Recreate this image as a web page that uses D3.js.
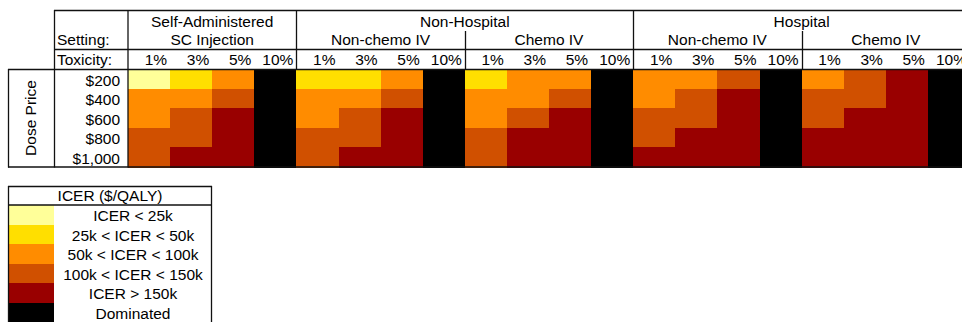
<!DOCTYPE html>
<html><head><meta charset="utf-8">
<script src="https://cdn.jsdelivr.net/npm/d3@7/dist/d3.min.js"></script>
<style>html,body{margin:0;padding:0;background:#fff;overflow:hidden}svg{display:block}</style>
</head><body>
<script>
// ---------- data ----------
const prices = ["$200", "$400", "$600", "$800", "$1,000"];
const toxicities = ["1%", "3%", "5%", "10%"];
const settingGroups = ["Self-Administered", "Non-Hospital", "Hospital"];
const routes = ["SC Injection", "Non-chemo IV", "Chemo IV", "Non-chemo IV", "Chemo IV"];
const routeGroup = [0, 1, 1, 2, 2];
// ICER category index per price (row) x toxicity (col)
// 0: <25k, 1: 25k-50k, 2: 50k-100k, 3: 100k-150k, 4: >150k, 5: Dominated
const scInjection      = [[0,1,2,5],[2,2,3,5],[2,3,4,5],[3,3,4,5],[3,4,4,5]];
const nonHospNonChemo  = [[1,1,2,5],[2,2,3,5],[2,3,4,5],[3,3,4,5],[3,4,4,5]];
const nonHospChemo     = [[1,2,2,5],[2,2,3,5],[2,3,4,5],[3,4,4,5],[3,4,4,5]];
const hospNonChemo     = [[2,2,3,5],[2,3,4,5],[3,3,4,5],[3,4,4,5],[4,4,4,5]];
const hospChemo        = [[2,3,4,5],[3,3,4,5],[3,4,4,5],[4,4,4,5],[4,4,4,5]];
const routeValues = [scInjection, nonHospNonChemo, nonHospChemo, hospNonChemo, hospChemo];
const legendTitle = "ICER ($/QALY)";
const legendLabels = ["ICER < 25k", "25k < ICER < 50k", "50k < ICER < 100k", "100k < ICER < 150k", "ICER > 150k", "Dominated"];
const legendColors = ["#FFFF99", "#FFDF00", "#FF8C00", "#D05000", "#990000", "#000000"];

// ---------- layout ----------
const W = 962, H = 322;
const font = "'Liberation Sans', Arial, sans-serif";
const fs = 15.5;
const svg = d3.select("body").append("svg").attr("width", W).attr("height", H)
  .style("font-family", font).style("font-size", fs + "px");

const cols = [];
routes.forEach((r, ri) => toxicities.forEach((t, ti) => cols.push({ri, ti, key: ri + "-" + ti})));
const x = d3.scaleBand().domain(cols.map(c => c.key)).range([128, 970]);
const y = d3.scaleBand().domain(prices).range([69, 167]);
const color = d3.scaleOrdinal().domain(d3.range(6)).range(legendColors);

const cells = [];
routeValues.forEach((m, ri) => m.forEach((row, pi) => row.forEach((v, ti) =>
  cells.push({ri, ti, pi, v, key: ri + "-" + ti}))));

svg.append("g").selectAll("rect").data(cells).join("rect")
  .attr("x", d => x(d.key)).attr("y", d => y(prices[d.pi]))
  .attr("width", x.bandwidth() + 0.5).attr("height", y.bandwidth() + 0.5)
  .attr("fill", d => color(d.v))
  .attr("shape-rendering", "crispEdges");

// ---------- grid lines ----------
const g = svg.append("g").attr("stroke", "#111").attr("stroke-width", 1.3).attr("fill", "none");
function line(x1, y1, x2, y2) { g.append("line").attr("x1", x1).attr("y1", y1).attr("x2", x2).attr("y2", y2); }
const right = 975;
line(54, 10.5, right, 10.5);
line(54, 49.5, right, 49.5);
line(8, 69.5, right, 69.5);
line(8, 167, right, 167);
line(8.5, 69, 8.5, 167.5);
line(54.5, 10, 54.5, 167.5);
line(128, 10, 128, 167.5);
// route boundaries
const routeStart = routes.map((r, ri) => x(ri + "-0"));
routes.forEach((r, ri) => {
  if (ri === 0) return;
  const xs = Math.round(routeStart[ri]) + 0.5;
  const top = routeGroup[ri] !== routeGroup[ri - 1] ? 10 : 31;
  line(xs, top, xs, 69.5);
});

// ---------- header text ----------
const txt = svg.append("g").attr("fill", "#000");
// setting groups
settingGroups.forEach((s, gi) => {
  const idx = routes.map((r, i) => i).filter(i => routeGroup[i] === gi);
  const x0 = x(idx[0] + "-0"), x1 = x(idx[idx.length - 1] + "-3") + x.bandwidth();
  txt.append("text").attr("x", (x0 + x1) / 2).attr("y", 26.5).attr("text-anchor", "middle").text(s);
});
routes.forEach((r, ri) => {
  const x0 = x(ri + "-0"), x1 = x(ri + "-3") + x.bandwidth();
  txt.append("text").attr("x", (x0 + x1) / 2).attr("y", 45).attr("text-anchor", "middle").text(r);
});
txt.append("text").attr("x", 57).attr("y", 45).text("Setting:");
txt.append("text").attr("x", 57).attr("y", 65).text("Toxicity:");
txt.selectAll("text.tox").data(cols).join("text").attr("class", "tox")
  .attr("x", d => x(d.key) + x.bandwidth() - 3).attr("y", 65)
  .attr("text-anchor", "end").text(d => toxicities[d.ti]);
txt.selectAll("text.price").data(prices).join("text").attr("class", "price")
  .attr("x", 120).attr("y", d => y(d) + 16.5)
  .attr("text-anchor", "end").text(d => d);
txt.append("text").attr("transform", "translate(36,118) rotate(-90)")
  .attr("text-anchor", "middle").text("Dose Price");

// ---------- legend ----------
const lg = svg.append("g");
const ly = d3.scaleBand().domain(legendLabels).range([205, 205 + 19.6 * 6]);
lg.selectAll("rect").data(legendLabels).join("rect")
  .attr("x", 9).attr("y", d => ly(d)).attr("width", 45).attr("height", ly.bandwidth() + 0.5)
  .attr("fill", (d, i) => legendColors[i]).attr("shape-rendering", "crispEdges");
lg.selectAll("text.lab").data(legendLabels).join("text").attr("class", "lab")
  .attr("x", 133).attr("y", d => ly(d) + 16).attr("text-anchor", "middle").text(d => d);
lg.append("text").attr("x", 110).attr("y", 201).attr("text-anchor", "middle").text(legendTitle);
const lgl = svg.append("g").attr("stroke", "#111").attr("stroke-width", 1.3).attr("fill", "none");
lgl.append("line").attr("x1", 8).attr("y1", 186.5).attr("x2", 212).attr("y2", 186.5);
lgl.append("line").attr("x1", 8).attr("y1", 205).attr("x2", 212).attr("y2", 205);
lgl.append("line").attr("x1", 8.5).attr("y1", 186).attr("x2", 8.5).attr("y2", 330);
lgl.append("line").attr("x1", 211.5).attr("y1", 186).attr("x2", 211.5).attr("y2", 330);
</script>
</body></html>
